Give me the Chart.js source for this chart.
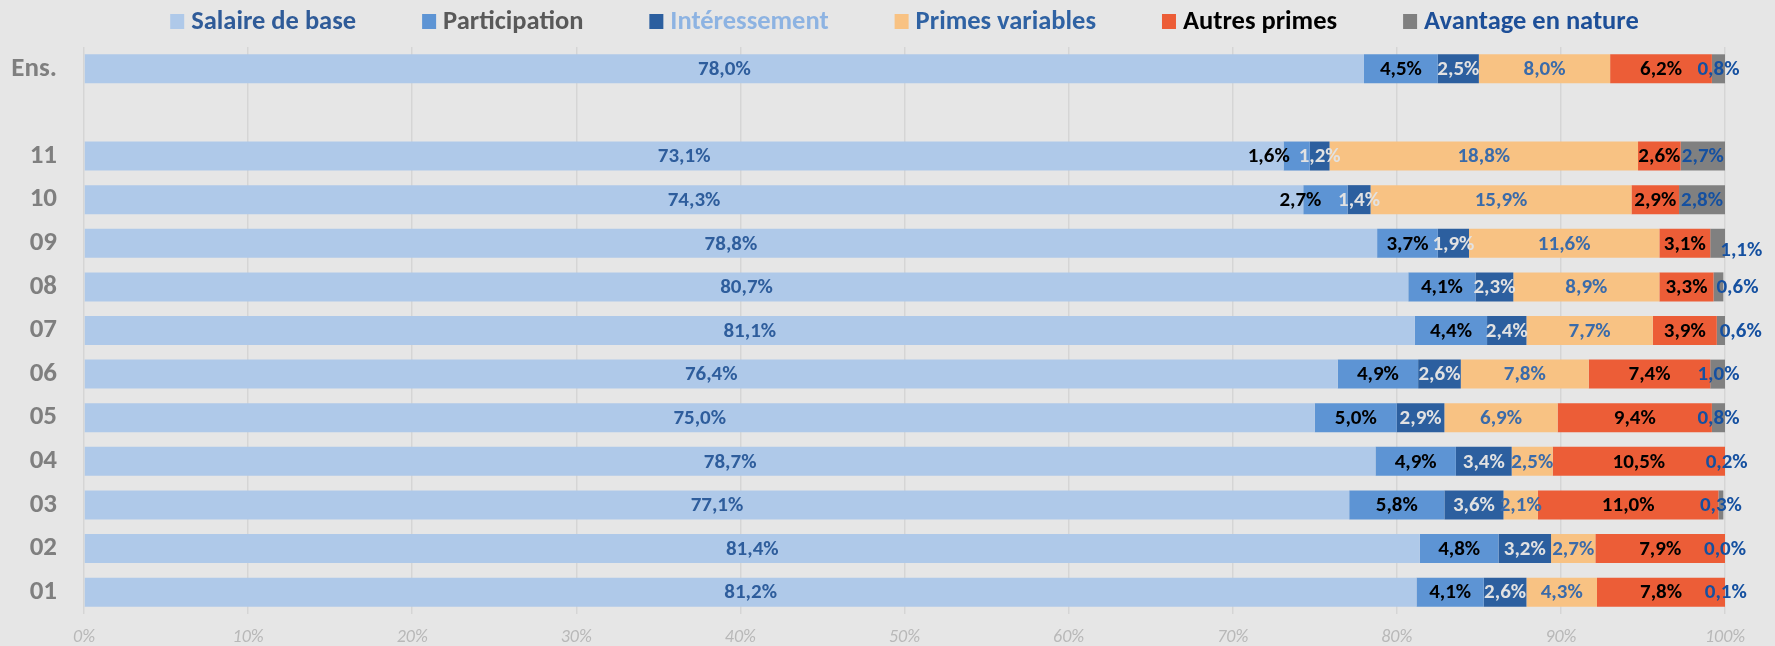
<!DOCTYPE html>
<html lang="fr">
<head>
<meta charset="utf-8">
<title>Structure de la rémunération</title>
<script src="https://cdn.jsdelivr.net/npm/chart.js@4/dist/chart.umd.min.js"></script>
<style>
  html, body { margin: 0; padding: 0; background: #e6e6e6; overflow: hidden; }
  canvas { display: block; }
</style>
</head>
<body>
<canvas id="chartRemu" width="1775" height="646"></canvas>
<script>
// ── données ────────────────────────────────────
const categories = ['Ens.', ' ', '11', '10', '09', '08', '07', '06', '05', '04', '03', '02', '01'];

const salaireBase   = [78.0, null, 73.1, 74.3, 78.8, 80.7, 81.1, 76.4, 75.0, 78.7, 77.1, 81.4, 81.2];
const participation = [ 4.5, null,  1.6,  2.7,  3.7,  4.1,  4.4,  4.9,  5.0,  4.9,  5.8,  4.8,  4.1];
const interessement = [ 2.5, null,  1.2,  1.4,  1.9,  2.3,  2.4,  2.6,  2.9,  3.4,  3.6,  3.2,  2.6];
const primesVar     = [ 8.0, null, 18.8, 15.9, 11.6,  8.9,  7.7,  7.8,  6.9,  2.5,  2.1,  2.7,  4.3];
const autresPrimes  = [ 6.2, null,  2.6,  2.9,  3.1,  3.3,  3.9,  7.4,  9.4, 10.5, 11.0,  7.9,  7.8];
const avantageNat   = [ 0.8, null,  2.7,  2.8,  1.1,  0.6,  0.6,  1.0,  0.8,  0.2,  0.3,  0.0,  0.1];

const xTicks = [0, 10, 20, 30, 40, 50, 60, 70, 80, 90, 100];

const FONT = "'Carlito', 'Liberation Sans Narrow', 'DejaVu Sans Condensed', sans-serif";

// série : [libellé, valeurs, couleur barre, couleur étiquette, couleur légende]
const series = [
  ['Salaire de base',    salaireBase,   '#afc9e9', '#2e5d9c', '#2f5b98'],
  ['Participation',      participation, '#5d94d4', '#000000', '#595959'],
  ['Intéressement',      interessement, '#2c5f9f', '#e2e2e2', '#8db3e2'],
  ['Primes variables',   primesVar,     '#f8c283', '#3a6baa', '#2f62a3'],
  ['Autres primes',      autresPrimes,  '#ec5d37', '#000000', '#000000'],
  ['Avantage en nature', avantageNat,   '#808080', '#1550a0', '#1d4f98']
];

const fmtPct = v => v.toFixed(1).replace('.', ',') + '%';

// ── étiquettes de valeur dans les barres ───────
const barLabels = {
  id: 'barLabels',
  afterDatasetsDraw(chart, args, opts) {
    const ctx = chart.ctx;
    ctx.save();
    ctx.font = `bold ${opts.size}px ${FONT}`;
    ctx.textAlign = 'center';
    ctx.textBaseline = 'middle';
    chart.data.datasets.forEach((ds, di) => {
      const meta = chart.getDatasetMeta(di);
      meta.data.forEach((bar, i) => {
        const v = ds.data[i];
        if (v === null || v === undefined) return;
        const shift = opts.shift[categories[i] + '|' + di] || [0, 0];
        const cx = (bar.x + bar.base) / 2;
        ctx.fillStyle = ds.labelColor;
        ctx.fillText(fmtPct(v), cx + shift[0], bar.y + shift[1] + 1);
      });
    });
    ctx.restore();
  }
};

// ── légende en ligne, centrée sur la zone de tracé ─
const legendRow = {
  id: 'legendRow',
  afterDraw(chart, args, opts) {
    const ctx = chart.ctx;
    const area = chart.chartArea;
    ctx.save();
    ctx.font = `bold ${opts.size}px ${FONT}`;
    ctx.textBaseline = 'middle';
    ctx.textAlign = 'left';
    const items = chart.data.datasets.map(ds => ({
      text: ds.label, box: ds.backgroundColor, color: ds.legendColor,
      w: opts.box + opts.gap + ctx.measureText(ds.label).width
    }));
    const total = items.reduce((s, it) => s + it.w, 0) + opts.spacing * (items.length - 1);
    let x = (area.left + area.right) / 2 - total / 2;
    items.forEach(it => {
      ctx.fillStyle = it.box;
      ctx.fillRect(x, opts.y - opts.box / 2, opts.box, opts.box + 1);
      ctx.fillStyle = it.color;
      ctx.fillText(it.text, x + opts.box + opts.gap, opts.y + 1);
      x += it.w + opts.spacing;
    });
    ctx.restore();
  }
};

// les libellés d'axe ne doivent pas rogner la zone de tracé
const noAxisPadding = s => {
  s.paddingTop = 0; s.paddingBottom = 0;
  s.paddingLeft = 0; s.paddingRight = 0;
};

new Chart(document.getElementById('chartRemu'), {
  type: 'bar',
  data: {
    labels: categories,
    datasets: series.map(([label, data, bg, lbl, leg]) => ({
      label, data,
      backgroundColor: bg,
      labelColor: lbl,
      legendColor: leg,
      borderWidth: 0,
      categoryPercentage: 1,
      barPercentage: 0.665
    }))
  },
  options: {
    indexAxis: 'y',
    responsive: false,
    animation: false,
    layout: { padding: { top: 47, left: 0, right: 50, bottom: 0 } },
    plugins: {
      legend: { display: false },
      tooltip: { enabled: false },
      barLabels: {
        size: 21,
        shift: {
          '11|1': [-28, 0], '10|1': [-25, 0],
          '09|5': [22, 6], '08|5': [19, 0], '07|5': [19, 0]
        }
      },
      legendRow: { size: 26.5, box: 14, gap: 7, spacing: 66, y: 21 }
    },
    scales: {
      x: {
        stacked: true,
        min: 0, max: 100,
        afterBuildTicks: s => { s.ticks = xTicks.map(v => ({ value: v })); },
        afterFit: s => { s.height = 32; noAxisPadding(s); },
        grid: { color: '#d5d5d5', lineWidth: 1.5, drawTicks: false },
        border: { display: false },
        ticks: {
          padding: 13,
          color: '#b8b8b8',
          font: { family: FONT, size: 18, style: 'italic' },
          callback: v => v + '%'
        }
      },
      y: {
        stacked: true,
        afterFit: s => { s.width = 84; noAxisPadding(s); },
        grid: { display: false, drawTicks: false },
        border: { display: false },
        ticks: {
          padding: 27,
          color: '#7f7f7f',
          font: { family: FONT, size: 27, weight: 'bold' }
        }
      }
    }
  },
  plugins: [barLabels, legendRow]
});
</script>
</body>
</html>
